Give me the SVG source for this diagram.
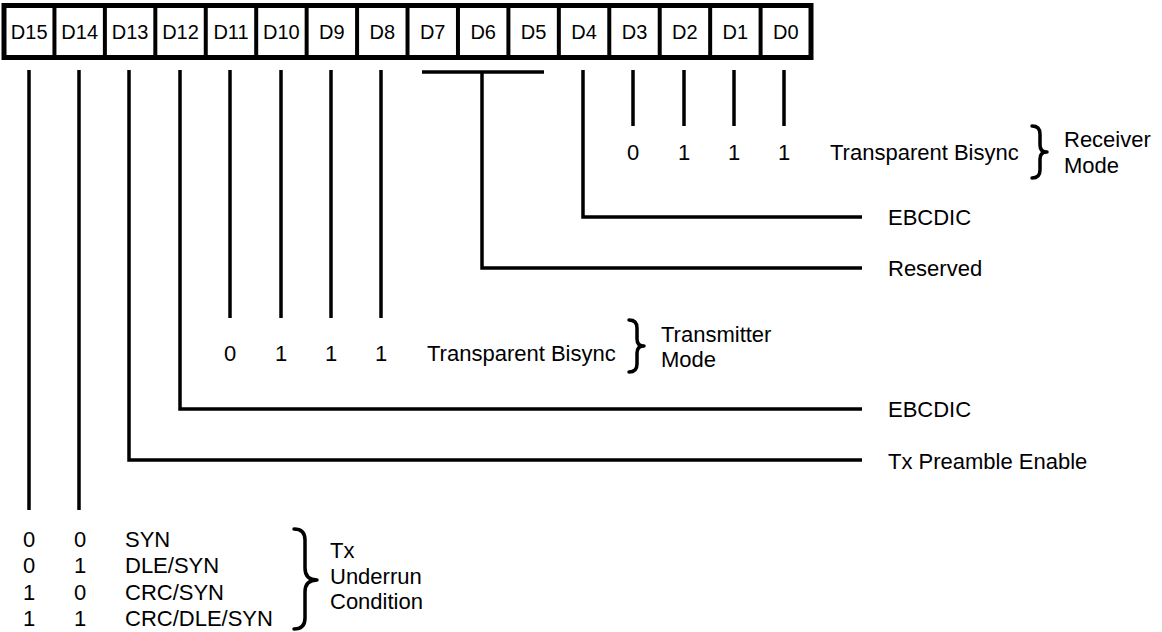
<svg xmlns="http://www.w3.org/2000/svg" width="1162" height="632" viewBox="0 0 1162 632">
<style>
text{font-family:"Liberation Sans",Arial,sans-serif;fill:#000}
.reg{font-size:20px;text-anchor:middle}
.t{font-size:22px}
.c{text-anchor:middle}
.ln{stroke:#000;stroke-width:3.5;fill:none;stroke-linecap:butt}
.div{stroke:#000;stroke-width:4}
.br{stroke:#000;stroke-width:3.5;fill:none;stroke-linecap:round;stroke-linejoin:round}
</style>
<rect width="1162" height="632" fill="#fff"/>
<g id="register">
<rect x="4" y="5.5" width="807" height="52" fill="#fff" stroke="#000" stroke-width="5"/>
<g class="div">
<line x1="54.44" y1="5.5" x2="54.44" y2="57.5"/>
<line x1="104.88" y1="5.5" x2="104.88" y2="57.5"/>
<line x1="155.32" y1="5.5" x2="155.32" y2="57.5"/>
<line x1="205.76" y1="5.5" x2="205.76" y2="57.5"/>
<line x1="256.2" y1="5.5" x2="256.2" y2="57.5"/>
<line x1="306.64" y1="5.5" x2="306.64" y2="57.5"/>
<line x1="357.08" y1="5.5" x2="357.08" y2="57.5"/>
<line x1="407.52" y1="5.5" x2="407.52" y2="57.5"/>
<line x1="457.96" y1="5.5" x2="457.96" y2="57.5"/>
<line x1="508.4" y1="5.5" x2="508.4" y2="57.5"/>
<line x1="558.84" y1="5.5" x2="558.84" y2="57.5"/>
<line x1="609.28" y1="5.5" x2="609.28" y2="57.5"/>
<line x1="659.72" y1="5.5" x2="659.72" y2="57.5"/>
<line x1="710.16" y1="5.5" x2="710.16" y2="57.5"/>
<line x1="760.6" y1="5.5" x2="760.6" y2="57.5"/>
</g>
<text class="reg" x="29.2" y="38.5">D15</text>
<text class="reg" x="79.7" y="38.5">D14</text>
<text class="reg" x="130.1" y="38.5">D13</text>
<text class="reg" x="180.5" y="38.5">D12</text>
<text class="reg" x="231" y="38.5">D11</text>
<text class="reg" x="281.4" y="38.5">D10</text>
<text class="reg" x="331.9" y="38.5">D9</text>
<text class="reg" x="382.3" y="38.5">D8</text>
<text class="reg" x="432.7" y="38.5">D7</text>
<text class="reg" x="483.2" y="38.5">D6</text>
<text class="reg" x="533.6" y="38.5">D5</text>
<text class="reg" x="584.1" y="38.5">D4</text>
<text class="reg" x="634.5" y="38.5">D3</text>
<text class="reg" x="684.9" y="38.5">D2</text>
<text class="reg" x="735.4" y="38.5">D1</text>
<text class="reg" x="785.8" y="38.5">D0</text>
</g>
<g id="connectors" class="ln">
<line x1="29" y1="70" x2="29" y2="510"/>
<line x1="79" y1="70" x2="79" y2="510"/>
<polyline points="129,70 129,460 862,460"/>
<polyline points="180,70 180,409 862,409"/>
<line x1="230" y1="70" x2="230" y2="318"/>
<line x1="281" y1="70" x2="281" y2="318"/>
<line x1="331" y1="70" x2="331" y2="318"/>
<line x1="381" y1="70" x2="381" y2="318"/>
<line x1="422" y1="72" x2="544" y2="72"/>
<polyline points="482,72 482,268 862,268"/>
<polyline points="583,70 583,217 862,217"/>
<line x1="633" y1="70" x2="633" y2="126"/>
<line x1="684" y1="70" x2="684" y2="126"/>
<line x1="734" y1="70" x2="734" y2="126"/>
<line x1="784" y1="70" x2="784" y2="126"/>
</g>
<g id="rx-mode" class="t">
<text class="c" x="633" y="160">0</text>
<text class="c" x="684" y="160">1</text>
<text class="c" x="734" y="160">1</text>
<text class="c" x="784" y="160">1</text>
<text x="830" y="160">Transparent Bisync</text>
<path class="br" d="M1032,126 Q1040,126 1040,134 L1040,145 Q1040,152 1047,152 Q1040,152 1040,159 L1040,170 Q1040,178 1032,178"/>
<text x="1064" y="147">Receiver</text>
<text x="1064" y="173">Mode</text>
</g>
<g id="rx-ebcdic" class="t"><text x="888" y="225">EBCDIC</text></g>
<g id="reserved" class="t"><text x="888" y="276">Reserved</text></g>
<g id="tx-mode" class="t">
<text class="c" x="230" y="361">0</text>
<text class="c" x="281" y="361">1</text>
<text class="c" x="331" y="361">1</text>
<text class="c" x="381" y="361">1</text>
<text x="427" y="361">Transparent Bisync</text>
<path class="br" d="M629,320 Q637,320 637,328 L637,339 Q637,346 644,346 Q637,346 637,353 L637,364 Q637,372 629,372"/>
<text x="661" y="342">Transmitter</text>
<text x="661" y="367">Mode</text>
</g>
<g id="tx-ebcdic" class="t"><text x="888" y="417">EBCDIC</text></g>
<g id="tx-preamble" class="t"><text x="888" y="469">Tx Preamble Enable</text></g>
<g id="tx-underrun" class="t">
<text class="c" x="29" y="547">0</text><text class="c" x="80" y="547">0</text><text x="125" y="547">SYN</text>
<text class="c" x="29" y="573">0</text><text class="c" x="80" y="573">1</text><text x="125" y="573">DLE/SYN</text>
<text class="c" x="29" y="600">1</text><text class="c" x="80" y="600">0</text><text x="125" y="600">CRC/SYN</text>
<text class="c" x="29" y="626">1</text><text class="c" x="80" y="626">1</text><text x="125" y="626">CRC/DLE/SYN</text>
<path class="br" d="M294,529 Q305,529 305,540 L305,568 Q305,580 317,580 Q305,580 305,592 L305,618 Q305,629 294,629"/>
<text x="330" y="558">Tx</text>
<text x="330" y="584">Underrun</text>
<text x="330" y="609">Condition</text>
</g>
</svg>
